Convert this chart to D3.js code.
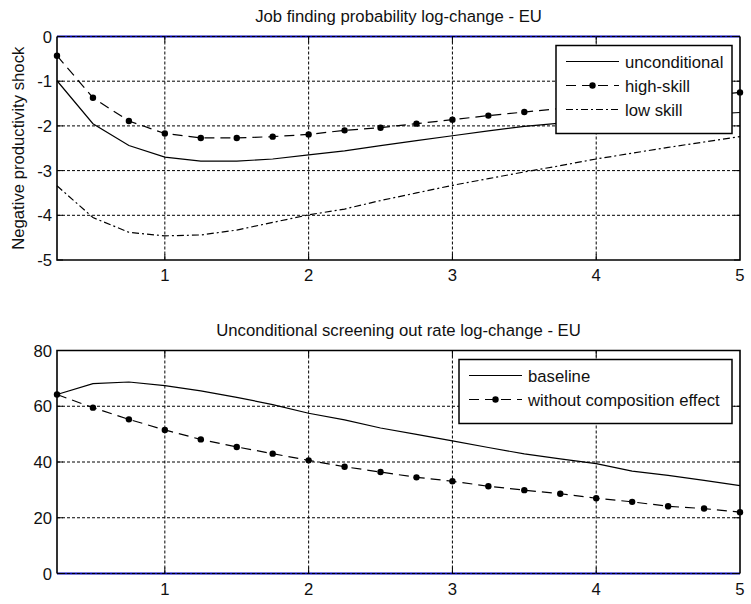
<!DOCTYPE html>
<html lang="en">
<head>
<meta charset="UTF-8">
<title>Job finding and screening out rates - EU</title>
<style>
  body { margin: 0; background: #fff; }
  svg { font-family: "Liberation Sans", Arial, sans-serif; font-size: 16.7px; fill: #111; }
  .grid line { stroke: #000; stroke-width: 1px; stroke-dasharray: 3,2; }
  .frame { fill: none; stroke: #000; stroke-width: 1.6px; }
  .tick-in { stroke: #000; stroke-width: 1px; }
  .solid { fill: none; stroke: #000; stroke-width: 1.2px; }
  .dashed { fill: none; stroke: #000; stroke-width: 1.2px; stroke-dasharray: 10,6; }
  .dashdot { fill: none; stroke: #000; stroke-width: 1.2px; stroke-dasharray: 7,3,2,3; }
  .zero { stroke: #0000b0; stroke-width: 2px; }
  .legend rect { fill: #fff; stroke: #000; stroke-width: 1.5px; }
</style>
</head>
<body>
<script src="https://d3js.org/d3.v7.min.js"></script>
<script>
// horizon (years), same for every series
const quarters = [0.25, 0.5, 0.75, 1, 1.25, 1.5, 1.75, 2, 2.25, 2.5,
                  2.75, 3, 3.25, 3.5, 3.75, 4, 4.25, 4.5, 4.75, 5];

// top panel: job finding probability log-change
const unconditional = [-0.99, -1.95, -2.44, -2.70, -2.79, -2.79, -2.74, -2.65, -2.56, -2.44,
                       -2.33, -2.22, -2.11, -2.01, -1.94, -1.88, -1.83, -1.78, -1.74, -1.70];
const highSkill = [-0.43, -1.37, -1.89, -2.17, -2.27, -2.27, -2.24, -2.19, -2.10, -2.04,
                   -1.95, -1.86, -1.77, -1.69, -1.61, -1.54, -1.47, -1.40, -1.33, -1.25];
const lowSkill = [-3.34, -4.05, -4.38, -4.46, -4.44, -4.33, -4.16, -3.99, -3.86, -3.67,
                  -3.50, -3.33, -3.18, -3.03, -2.89, -2.74, -2.61, -2.48, -2.36, -2.24];

// bottom panel: unconditional screening out rate log-change
const baseline = [64.2, 68.1, 68.7, 67.4, 65.5, 63.2, 60.6, 57.5, 55.1, 52.2,
                  49.9, 47.6, 45.2, 42.9, 41.1, 39.4, 36.7, 35.2, 33.4, 31.5];
const noComposition = [64.2, 59.5, 55.3, 51.5, 48.1, 45.4, 43.0, 40.6, 38.3, 36.4,
                       34.5, 33.1, 31.3, 29.9, 28.6, 27.0, 25.7, 24.1, 23.3, 22.0];

const xTicks = [1, 2, 3, 4, 5];
const yTicksTop = [0, -1, -2, -3, -4, -5];
const yTicksBottom = [0, 20, 40, 60, 80];

const W = 751, H = 604;
const svg = d3.select('body').append('svg')
  .attr('width', W)
  .attr('height', H);

function panel(opts) {
  const { top, bottom, yDomain, yTicks, title, ylabel, series, legendW, legendRowH } = opts;
  const left = 57, right = 740;

  const x = d3.scaleLinear().domain([0.25, 5]).range([left, right]);
  const y = d3.scaleLinear().domain(yDomain).range([bottom, top]);

  const g = svg.append('g');

  // dotted grid
  const grid = g.append('g').attr('class', 'grid');
  grid.selectAll('.gx').data(xTicks.filter(d => d < 5)).join('line')
    .attr('x1', d => x(d)).attr('x2', d => x(d))
    .attr('y1', top).attr('y2', bottom);
  grid.selectAll('.gy').data(yTicks.filter(d => d !== yDomain[0] && d !== yDomain[1])).join('line')
    .attr('x1', left).attr('x2', right)
    .attr('y1', d => y(d)).attr('y2', d => y(d));

  // zero line (blue, with the dotted grid over it)
  g.append('line').attr('class', 'zero')
    .attr('x1', left).attr('x2', right)
    .attr('y1', y(0)).attr('y2', y(0));
  g.append('line')
    .attr('x1', left).attr('x2', right)
    .attr('y1', y(0)).attr('y2', y(0))
    .attr('stroke', '#000').attr('stroke-dasharray', '3,2');

  // series
  const line = d3.line().x((d, i) => x(quarters[i])).y(d => y(d));
  series.forEach(s => {
    g.append('path').datum(s.values)
      .attr('class', s.cls)
      .attr('d', line);
    if (s.dots) {
      g.selectAll(null).data(s.values).join('circle')
        .attr('cx', (d, i) => x(quarters[i]))
        .attr('cy', d => y(d))
        .attr('r', 3.2)
        .attr('fill', '#000');
    }
  });

  // frame, leaving the zero side to the blue line
  const zeroY = y(0);
  g.append('path').attr('class', 'frame')
    .attr('d', zeroY === top
      ? `M${right},${top}V${bottom}H${left}V${top}`
      : `M${left},${bottom}V${top}H${right}V${bottom}`);

  // inward ticks on all sides
  const tl = 6;
  xTicks.filter(d => d < 5).forEach(d => {
    g.append('line').attr('class', 'tick-in')
      .attr('x1', x(d)).attr('x2', x(d)).attr('y1', bottom).attr('y2', bottom - tl);
    g.append('line').attr('class', 'tick-in')
      .attr('x1', x(d)).attr('x2', x(d)).attr('y1', top).attr('y2', top + tl);
  });
  yTicks.forEach(d => {
    g.append('line').attr('class', 'tick-in')
      .attr('x1', left).attr('x2', left + tl).attr('y1', y(d)).attr('y2', y(d));
    g.append('line').attr('class', 'tick-in')
      .attr('x1', right).attr('x2', right - tl).attr('y1', y(d)).attr('y2', y(d));
  });

  // tick labels
  g.selectAll('.xl').data(xTicks).join('text')
    .attr('x', d => x(d)).attr('y', bottom + 21)
    .attr('text-anchor', 'middle')
    .text(d => d);
  g.selectAll('.yl').data(yTicks).join('text')
    .attr('x', left - 5).attr('y', d => y(d) + 6)
    .attr('text-anchor', 'end')
    .text(d => d);

  // title
  g.append('text')
    .attr('x', (left + right) / 2).attr('y', top - 15)
    .attr('text-anchor', 'middle')
    .text(title);

  if (ylabel) {
    g.append('text')
      .attr('transform', `translate(24,${(top + bottom) / 2}) rotate(-90)`)
      .attr('text-anchor', 'middle')
      .text(ylabel);
  }

  // legend, top right
  const lx = right - 8 - legendW, ly = top + 9;
  const lh = 16 + legendRowH * series.length;
  const leg = g.append('g').attr('class', 'legend');
  leg.append('rect').attr('x', lx).attr('y', ly).attr('width', legendW).attr('height', lh);
  series.forEach((s, i) => {
    const ry = ly + 16 + i * legendRowH;
    leg.append('line').attr('class', s.cls)
      .attr('x1', lx + 10).attr('x2', lx + 63)
      .attr('y1', ry).attr('y2', ry);
    if (s.dots) {
      leg.append('circle').attr('cx', lx + 36.5).attr('cy', ry).attr('r', 3.2).attr('fill', '#000');
    }
    leg.append('text').attr('x', lx + 69).attr('y', ry + 6).text(s.name);
  });
}

panel({
  top: 36.5, bottom: 260,
  yDomain: [-5, 0], yTicks: yTicksTop,
  title: 'Job finding probability log-change - EU',
  ylabel: 'Negative productivity shock',
  legendW: 176, legendRowH: 24,
  series: [
    { name: 'unconditional', values: unconditional, cls: 'solid' },
    { name: 'high-skill', values: highSkill, cls: 'dashed', dots: true },
    { name: 'low skill', values: lowSkill, cls: 'dashdot' }
  ]
});

panel({
  top: 350.5, bottom: 573.5,
  yDomain: [0, 80], yTicks: yTicksBottom,
  title: 'Unconditional screening out rate log-change - EU',
  legendW: 273, legendRowH: 24,
  series: [
    { name: 'baseline', values: baseline, cls: 'solid' },
    { name: 'without composition effect', values: noComposition, cls: 'dashed', dots: true }
  ]
});
</script>
</body>
</html>
